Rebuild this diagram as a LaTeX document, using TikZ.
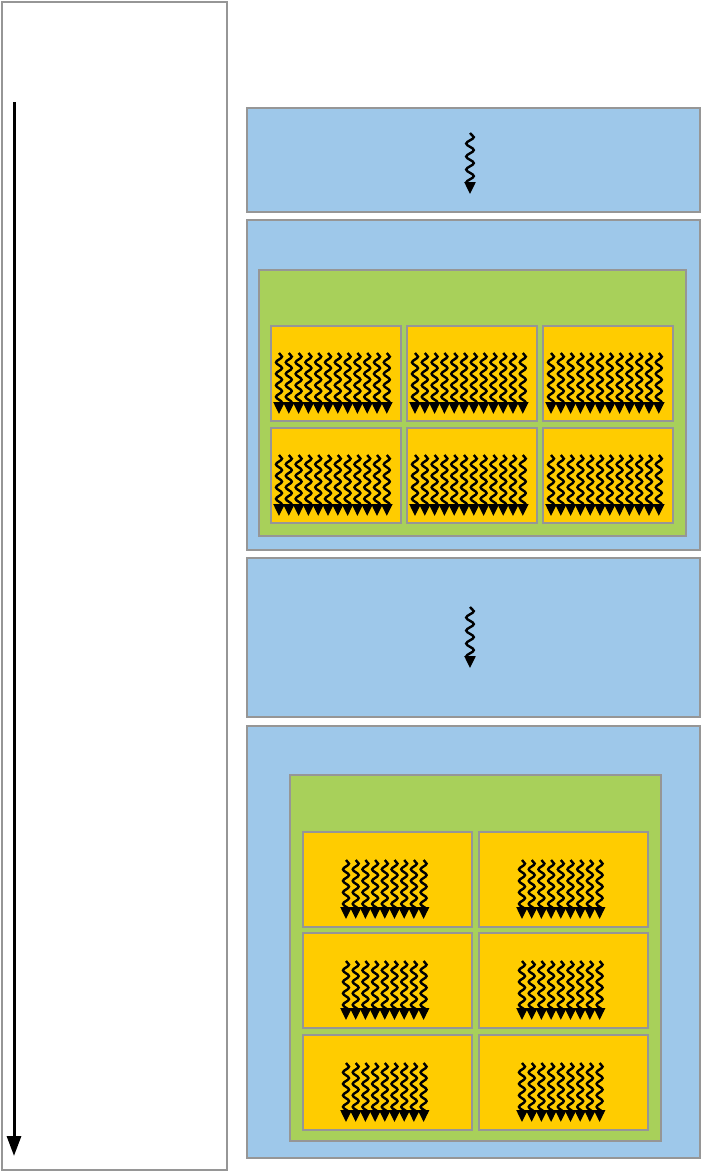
\documentclass[tikz,border=0pt]{standalone}
\usetikzlibrary{arrows.meta,decorations.pathmorphing}
\definecolor{laneblue}{RGB}{158,200,234}
\definecolor{gridgreen}{RGB}{168,208,90}
\definecolor{blockyellow}{RGB}{255,204,0}
\definecolor{edgegray}{RGB}{150,150,150}
\tikzset{
	box/.style={draw=edgegray, line width=2pt, anchor=north west, inner sep=0pt},
	thread/.style={decorate, decoration={snake, amplitude=3pt, segment length=11.5pt, post length=3pt},
		line width=2.4pt, -{Triangle[width=11pt,length=12pt]}},
	mainthread/.style={thread, decoration={amplitude=3.8pt, segment length=13pt}},
}
\begin{document}
\begin{tikzpicture}[x=1pt, y=-1pt]
	\useasboundingbox (0,0) rectangle (701,1171);
	% time line
	\node[box, line width=2.4pt, fill=white, minimum width=225pt, minimum height=1168pt] (time) at (1,1) {};
	\coordinate (t0) at (14,102);
	\coordinate (t1) at (14,1156);
	\draw[line width=3pt, -{Triangle[width=14pt,length=20pt]}] (t0) -- (t1);

	% serial part 1
	\node[box, fill=laneblue, minimum width=453pt, minimum height=104pt] (host1) at (246,107) {};
	\draw[mainthread] (470,133) -- (470,194);

	% parallel part 1
	\node[box, fill=laneblue, minimum width=453pt, minimum height=330pt] (dev1) at (246,219) {};
	\node[box, fill=gridgreen, minimum width=427pt, minimum height=266pt] (grid1) at (258,269) {};
	\foreach \c in {270,406,542}
		\foreach \r in {325,427} {
			\node[box, fill=blockyellow, minimum width=130pt, minimum height=95pt] (blk-\c-\r) at (\c,\r) {};
			\foreach \i in {0,...,11}
				\draw[thread] (\c+9+\i*9.8,\r+28) -- (\c+9+\i*9.8,\r+89);
		}

	% serial part 2
	\node[box, fill=laneblue, minimum width=453pt, minimum height=159pt] (host2) at (246,557) {};
	\draw[mainthread] (470,607) -- (470,668);

	% parallel part 2
	\node[box, fill=laneblue, minimum width=453pt, minimum height=432pt] (dev2) at (246,725) {};
	\node[box, fill=gridgreen, minimum width=371pt, minimum height=366pt] (grid2) at (289,774) {};
	\foreach \c in {302,478}
		\foreach \r in {831,932,1034} {
			\node[box, fill=blockyellow, minimum width=169pt, minimum height=95pt] (blk-\c-\r) at (\c,\r) {};
			\foreach \i in {0,...,8}
				\draw[thread] (\c+44+\i*9.7,\r+29) -- (\c+44+\i*9.7,\r+88);
		}
\end{tikzpicture}
\end{document}
